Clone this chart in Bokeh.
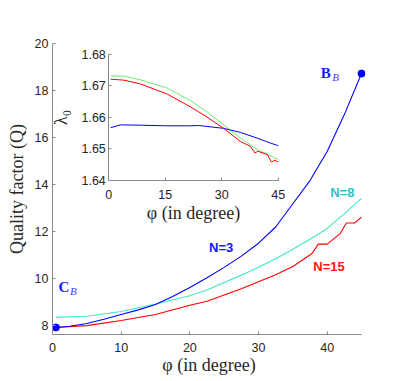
from bokeh.plotting import figure
from bokeh.models import Range1d, LinearAxis, FixedTicker, Label, NumeralTickFormatter
from bokeh.embed import file_html
from bokeh.resources import INLINE

# ---------------- data: main plot (Quality factor vs phi) ----------------
x_n3 = [0.5, 2.5, 5, 7.5, 10, 12.5, 15, 17.5, 20, 22.5, 25, 27.5, 30, 32.5, 35, 37.5, 40, 42.5, 45]
q_n3 = [7.9, 7.95, 8.07, 8.25, 8.45, 8.65, 8.88, 9.22, 9.6, 10.02, 10.46, 10.94, 11.49, 12.18, 13.17, 14.16, 15.4, 16.97, 18.72]

x_n8 = [0.5, 5, 10, 15, 20, 22.5, 25, 27.5, 30, 32.5, 35, 37.5, 40, 42.5, 45]
q_n8 = [8.33, 8.38, 8.58, 8.9, 9.25, 9.5, 9.82, 10.13, 10.47, 10.83, 11.23, 11.66, 12.12, 12.75, 13.4]

x_n15 = [0.5, 5, 10, 15, 20, 22.5, 25, 27.5, 30, 32.5, 35, 37.8, 38.7, 40, 41.9, 42.8, 44, 45]
q_n15 = [7.9, 7.98, 8.2, 8.45, 8.85, 9.02, 9.28, 9.55, 9.85, 10.15, 10.5, 11.05, 11.45, 11.45, 11.9, 12.35, 12.35, 12.6]

# ---------------- data: inset (lambda_0 vs phi) ----------------
ix_n8 = [0.5, 4, 8.4, 15.5, 21.7, 26.1, 30.5, 35, 39.4, 45]
lam_n8 = [1.6730, 1.6730, 1.6718, 1.6692, 1.6652, 1.6616, 1.6575, 1.6533, 1.6497, 1.6465]

ix_n15 = [0.5, 4, 8.4, 15.5, 21.7, 26.1, 30.5, 35, 37.6, 38.8, 39.6, 42.1, 43.2, 44.1, 45]
lam_n15 = [1.6720, 1.6717, 1.6705, 1.6673, 1.6632, 1.6600, 1.6564, 1.6522, 1.6507, 1.6486, 1.6491, 1.6481, 1.6457, 1.6463, 1.6457]

ix_n3 = [0.5, 3.1, 8.4, 15.5, 21.7, 23.9, 26.1, 30.5, 35, 39.4, 43, 45]
lam_n3 = [1.6566, 1.6575, 1.6574, 1.6572, 1.6572, 1.6573, 1.6570, 1.6564, 1.6551, 1.6533, 1.6517, 1.6509]

main_xticks = [0, 10, 20, 30, 40]
main_yticks = [8, 10, 12, 14, 16, 18, 20]
inset_xticks = [0, 15, 30, 45]
inset_yticks = [1.64, 1.65, 1.66, 1.67, 1.68]

# ---------------- layout ----------------
W, H = 398, 380
FL, FR, FT, FB = 52, 365, 43, 334          # frame edges (pixels)
P0, P45 = 52.0, 361.0                       # pixel position of x=0 and x=45
IL, IR, IT, IB = 108.3, 277.7, 53.5, 179.5  # inset box (pixels)

X0, X1 = 0, 45
Y0, Y1 = 7.6, 20
IX0, IX1 = 0, 45
IY0, IY1 = 1.64, 1.68

mx = (P45 - P0) / (X1 - X0)
sx = (IR - IL) / (IX1 - IX0)
sy = (IB - IT) / (IY1 - IY0)

p = figure(width=W, height=H, output_backend="svg", toolbar_location=None,
           x_range=Range1d(X0 - (P0 - FL) / mx, X1 + (FR - P45) / mx),
           y_range=Range1d(Y0, Y1),
           min_border_left=FL, min_border_right=W - FR, min_border_top=FT, min_border_bottom=H - FB)
p.extra_x_ranges = {"ix": Range1d(IX0 - (IL - FL) / sx, IX1 + (FR - IR) / sx)}
p.extra_y_ranges = {"iy": Range1d(IY0 - (FB - IB) / sy, IY1 + (IT - FT) / sy)}

p.outline_line_color = None
p.xgrid.grid_line_color = None
p.ygrid.grid_line_color = None
p.background_fill_color = "white"
p.border_fill_color = "white"

main_x = p.xaxis[0]
main_y = p.yaxis[0]
main_x.ticker = FixedTicker(ticks=main_xticks)
main_y.ticker = FixedTicker(ticks=main_yticks)
main_x.bounds = (X0, X1)
main_x.axis_label = "φ (in degree)"
main_y.axis_label = "Quality factor (Q)"

ixa = LinearAxis(x_range_name="ix", y_range_name="iy", fixed_location=IY0, bounds=(IX0, IX1),
                 ticker=FixedTicker(ticks=inset_xticks), axis_label="φ (in degree)")
iya = LinearAxis(x_range_name="ix", y_range_name="iy", fixed_location=IX0, bounds=(IY0, IY1),
                 ticker=FixedTicker(ticks=inset_yticks), formatter=NumeralTickFormatter(format="0.00"),
                 axis_label="λ₀")
p.add_layout(ixa, "below")
p.add_layout(iya, "left")

for ax in [main_x, main_y, ixa, iya]:
    ax.axis_line_color = "#8a8a8a"
    ax.axis_line_width = 1
    ax.major_tick_line_color = "#8a8a8a"
    ax.major_tick_in = 3
    ax.major_tick_out = 0
    ax.minor_tick_line_color = None
    ax.major_label_text_font = "Liberation Sans"
    ax.major_label_text_font_size = "12.5px"
    ax.major_label_text_color = "#262626"
    ax.axis_label_text_font = "Liberation Serif"
    ax.axis_label_text_font_style = "normal"
    ax.axis_label_text_font_size = "18px"
    ax.axis_label_text_color = "#262626"

main_x.major_label_standoff = 8
main_x.axis_label_standoff = 0
main_y.major_label_standoff = 4
main_y.axis_label_standoff = 5
ixa.major_label_standoff = 10
ixa.axis_label_standoff = 0
iya.major_label_standoff = 3
iya.axis_label_standoff = 7

BLUE = "#0000ff"
CYAN = "#3ee8c4"
RED = "#ff0000"
GREEN = "#6cee6c"

# main curves
p.line(x_n8, q_n8, line_color=CYAN, line_width=1.1)
p.line(x_n15, q_n15, line_color=RED, line_width=1.1)
p.line(x_n3, q_n3, line_color=BLUE, line_width=1.1)
p.scatter([x_n3[0], x_n3[-1]], [q_n3[0], q_n3[-1]], size=7, color=BLUE)

# inset curves
p.line(ix_n8, lam_n8, line_color=GREEN, line_width=1.0, x_range_name="ix", y_range_name="iy")
p.line(ix_n3, lam_n3, line_color=BLUE, line_width=1.0, x_range_name="ix", y_range_name="iy")
p.line(ix_n15, lam_n15, line_color=RED, line_width=1.0, x_range_name="ix", y_range_name="iy")

# curve labels
def tag(x, y, text, color):
    p.add_layout(Label(x=x, y=y, text=text, text_align="center", text_baseline="middle",
                       text_color=color, text_font="Liberation Sans", text_font_style="bold",
                       text_font_size="13px"))

tag(24.56, 11.32, "N=3", "#1414ff")
tag(42.2, 13.67, "N=8", "#1fc6c6")
tag(40.27, 10.48, "N=15", "#ff1414")

# point labels C_B and B_B, anchored to the marked points
def point_label(x, y, dx, dy, sdx, sdy, letter):
    p.add_layout(Label(x=x, y=y, x_offset=dx, y_offset=dy, text=letter, text_align="center",
                       text_baseline="middle", text_color="#1a1aff", text_font="Liberation Serif",
                       text_font_style="bold", text_font_size="15px"))
    p.add_layout(Label(x=x, y=y, x_offset=sdx, y_offset=sdy, text="B", text_align="center",
                       text_baseline="middle", text_color="#3a3aff", text_font="Liberation Serif",
                       text_font_style="italic", text_font_size="11px"))

point_label(x_n3[0], q_n3[0], 8.1, 40, 17.5, 36, "C")
point_label(x_n3[-1], q_n3[-1], -35.7, 0.8, -26, -3.4, "B")

open("out.html", "w").write(file_html(p, INLINE))
